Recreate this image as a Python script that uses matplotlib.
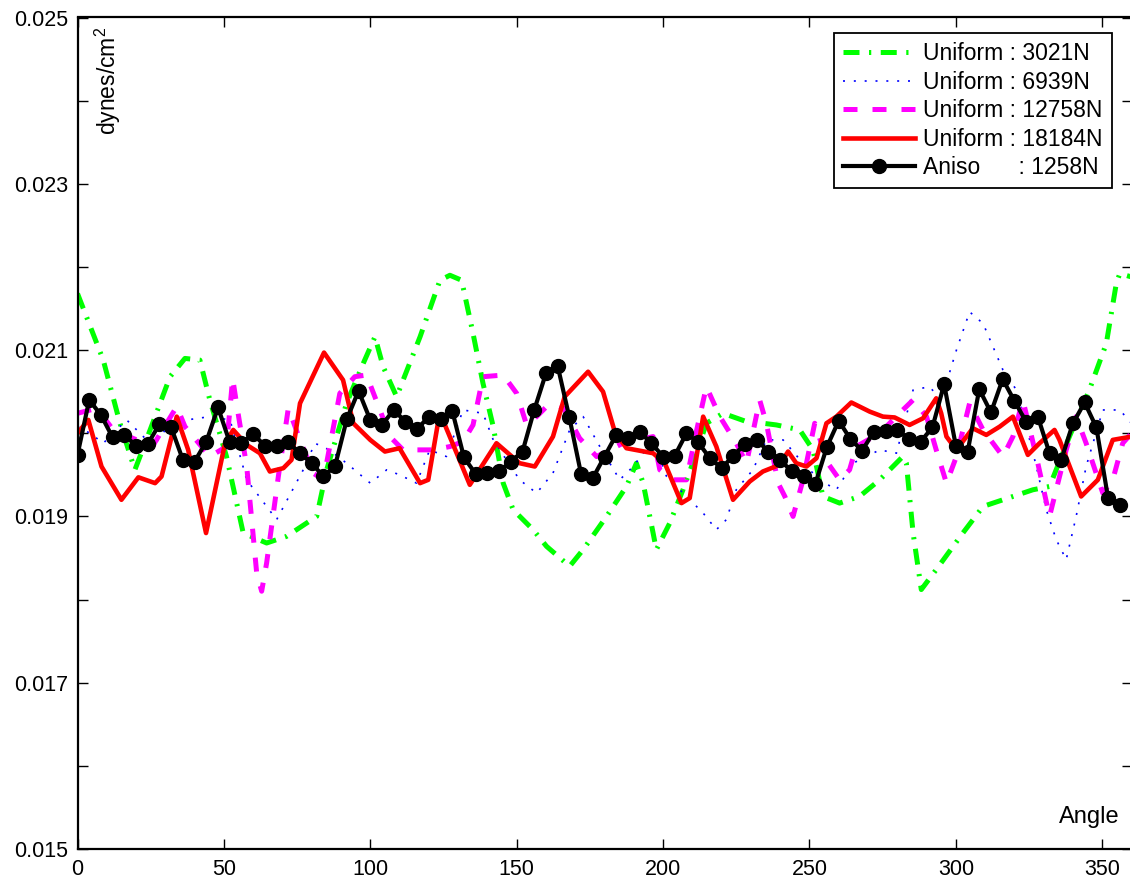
import matplotlib
matplotlib.use("Agg")
import matplotlib.pyplot as plt
import numpy as np

plt.rcParams['font.family'] = ['Liberation Sans', 'DejaVu Sans']
plt.rcParams['mathtext.fontset'] = 'custom'
plt.rcParams['mathtext.rm'] = 'Liberation Sans'

# ---------------- data ----------------
aniso_angle = list(range(0, 360, 4))
aniso_val = [0.01974, 0.0204, 0.02022, 0.01995, 0.01998, 0.01985, 0.01987, 0.02011, 0.02007, 0.01968,
             0.01966, 0.0199, 0.02031, 0.01989, 0.01988, 0.01999, 0.01985, 0.01985, 0.01989, 0.01976,
             0.01964, 0.01948, 0.01961, 0.02017, 0.02051, 0.02016, 0.0201, 0.02028, 0.02014, 0.02005,
             0.0202, 0.02017, 0.02027, 0.01971, 0.01951, 0.01952, 0.01954, 0.01966, 0.01978, 0.02028,
             0.02072, 0.02081, 0.02019, 0.01951, 0.01946, 0.01972, 0.01998, 0.01994, 0.02002, 0.01988,
             0.01972, 0.01973, 0.02, 0.01989, 0.0197, 0.01958, 0.01973, 0.01987, 0.01992, 0.01978,
             0.01968, 0.01954, 0.01948, 0.01939, 0.01984, 0.02015, 0.01993, 0.01979, 0.02002, 0.02003,
             0.02004, 0.01993, 0.0199, 0.02007, 0.02059, 0.01985, 0.01977, 0.02053, 0.02025, 0.02065,
             0.02039, 0.02014, 0.0202, 0.01976, 0.01968, 0.02012, 0.02037, 0.02007, 0.01922, 0.01914]

red_angle = [0, 3.7, 8.2, 15, 20.8, 26.5, 28.7, 33.9, 37.8, 43.9, 50.4, 53.2, 57.8, 62.3, 65.7, 70.3,
             73.1, 76, 84.2, 90.7, 94.2, 100, 105, 110, 117, 119.8, 123.2, 125.5, 134, 143.1, 151,
             156.2, 162.4, 166.4, 174.4, 179.5, 183.5, 187.5, 196.6, 200.6, 206.3, 209.1, 213.7,
             218.2, 223.9, 229.6, 234.1, 239.8, 242.7, 245.5, 249, 252.4, 255.8, 259.2, 264.3,
             270.6, 275.1, 279.1, 284.2, 288.8, 293.3, 295, 296.8, 300.2, 305.8, 310.4, 315,
             319.5, 324.6, 328.6, 333.7, 335.4, 342.8, 348.5, 353.6, 360]
red_val = [0.0200, 0.02016, 0.0196, 0.0192, 0.01947, 0.0194, 0.01948, 0.0202, 0.0198, 0.0188, 0.01988,
           0.02004, 0.01986, 0.01976, 0.01954, 0.01958, 0.01968, 0.02036, 0.02097, 0.02064, 0.02012,
           0.01992, 0.01978, 0.01982, 0.0194, 0.01944, 0.02014, 0.0201, 0.01938, 0.01988, 0.01964,
           0.0196, 0.01996, 0.02044, 0.02074, 0.0205, 0.02002, 0.01982, 0.01976, 0.01964, 0.01916,
           0.01922, 0.0202, 0.01984, 0.0192, 0.01942, 0.01954, 0.01962, 0.01978, 0.01964, 0.0196,
           0.0197, 0.02012, 0.0202, 0.02037, 0.02026, 0.0202, 0.02019, 0.0201, 0.02018, 0.02042,
           0.02024, 0.01996, 0.0198, 0.02006, 0.01998, 0.02008, 0.0202, 0.01974, 0.01988, 0.02004,
           0.01992, 0.01924, 0.01944, 0.01992, 0.01996]

mag_angle = [0, 6.6, 12.2, 20.2, 25.9, 33.9, 36.7, 45.2, 50.9, 53, 54.3, 57.8, 61.2, 62.9, 64.6, 68.6,
             72, 76, 80.5, 84, 89.6, 94.7, 98.7, 103.3, 106.7, 111.2, 121.5, 127.2, 131.7, 135.1,
             138.5, 145.4, 150, 153.4, 156.8, 160.2, 163, 166, 171.5, 177.3, 186.3, 196.6, 198.9,
             203.4, 208, 211.5, 214.8, 219.4, 225, 228.5, 233, 235.3, 239.3, 241.6, 244.4, 247.8,
             251.8, 256.3, 260.3, 263.7, 266, 274, 281.9, 285.4, 290, 293.3, 296.8, 300.2, 304.7,
             309.3, 316.1, 319.5, 322.9, 327.5, 332, 337.7, 341.1, 344.5, 350.2, 353.6, 357, 360]
mag_val = [0.02024, 0.0203, 0.02004, 0.01992, 0.01986, 0.02032, 0.02008, 0.01972, 0.01984, 0.02066,
           0.02036, 0.0196, 0.01832, 0.0181, 0.01844, 0.01948, 0.0203, 0.01992, 0.01952, 0.01944,
           0.02048, 0.02068, 0.0207, 0.02028, 0.01996, 0.0198, 0.0198, 0.01984, 0.0199, 0.0201,
           0.02068, 0.0207, 0.02048, 0.0201, 0.0202, 0.02032, 0.02034, 0.0203, 0.01994, 0.01972,
           0.01988, 0.01996, 0.01956, 0.01944, 0.01944, 0.02004, 0.02056, 0.0202, 0.01988, 0.01964,
           0.0204, 0.02012, 0.0194, 0.01924, 0.019, 0.01944, 0.02012, 0.01964, 0.01944, 0.01956,
           0.01984, 0.0200, 0.02028, 0.0204, 0.0202, 0.0198, 0.0194, 0.01972, 0.02036, 0.02004,
           0.01972, 0.01996, 0.0204, 0.01972, 0.019, 0.0198, 0.0202, 0.01988, 0.01928, 0.01944,
           0.01988, 0.0200]

blue_angle = [0, 4.3, 8.8, 16.8, 25.9, 31.6, 37.3, 45.2, 52.1, 57.8, 68, 77.1, 81.1, 86, 91.9, 100,
              105.6, 110, 115.8, 120.3, 126, 131.7, 138.5, 142, 151, 156.8, 162.4, 168.1, 172.7,
              178.4, 185.2, 189.8, 196.6, 201.2, 208, 213.7, 218.2, 221.6, 225, 230.7, 235.3, 241,
              247.8, 253.5, 259.2, 264.9, 274, 279.7, 285.4, 291, 295, 300.2, 304.7, 309.3, 316.1,
              320.7, 324.1, 327.5, 330.9, 334.3, 337.7, 341.1, 344.5, 350.2, 356, 360]
blue_val = [0.02008, 0.0200, 0.01988, 0.02016, 0.01984, 0.02012, 0.02016, 0.0202, 0.02016, 0.01944,
            0.01896, 0.01956, 0.01988, 0.0198, 0.01964, 0.0194, 0.01956, 0.0195, 0.0194, 0.0198,
            0.01972, 0.02028, 0.02024, 0.01992, 0.01944, 0.01928, 0.01952, 0.02004, 0.0202, 0.01984,
            0.01944, 0.0196, 0.01992, 0.01948, 0.01924, 0.01904, 0.01884, 0.01896, 0.01932, 0.01956,
            0.01992, 0.01992, 0.01964, 0.01944, 0.01932, 0.01964, 0.0198, 0.01976, 0.02052, 0.02056,
            0.0204, 0.021, 0.02146, 0.02132, 0.02076, 0.02052, 0.02008, 0.0196, 0.01908, 0.01872,
            0.01848, 0.019, 0.0196, 0.02028, 0.02028, 0.02012]

green_angle = [0, 8.8, 14.5, 19.6, 24.8, 31.6, 36.7, 41.8, 45.2, 50.9, 56.6, 64.6, 71.4, 81.7, 85.1,
               91.9, 97.6, 101.6, 104.4, 109, 117, 123.8, 127.2, 131.2, 135.1, 138.5, 142, 145.4,
               148.8, 155.6, 160.2, 168.1, 172.7, 180.7, 187.5, 190.9, 193.2, 196.6, 197.7, 202.3,
               206.8, 211.4, 214.8, 220.5, 228.5, 234.2, 238.7, 246.7, 251.2, 254.6, 260.3, 267.1,
               274, 281.9, 283.1, 285.4, 288.2, 293.3, 302.4, 309.3, 316.1, 326.3, 332, 338.8, 345.6,
               351.4, 354.8, 356, 360]
green_val = [0.02168, 0.02088, 0.02012, 0.01956, 0.02004, 0.02068, 0.0209, 0.02088, 0.0204, 0.01972,
             0.0188, 0.01868, 0.01876, 0.019, 0.01956, 0.02036, 0.02084, 0.02116, 0.0208, 0.02044,
             0.02116, 0.02184, 0.0219, 0.02184, 0.0212, 0.0206, 0.02008, 0.0194, 0.01908, 0.01884,
             0.01864, 0.0184, 0.0186, 0.019, 0.01936, 0.01964, 0.0194, 0.0188, 0.0186, 0.01892,
             0.01932, 0.01976, 0.02012, 0.02024, 0.02014, 0.02012, 0.0201, 0.02004, 0.0198, 0.01924,
             0.01916, 0.01924, 0.01944, 0.01972, 0.01964, 0.0188, 0.01812, 0.01836, 0.0188, 0.01912,
             0.0192, 0.01932, 0.01936, 0.01996, 0.02052, 0.02108, 0.0218, 0.02192, 0.02188]

labels = ['Uniform : 3021N', 'Uniform : 6939N', 'Uniform : 12758N', 'Uniform : 18184N',
          'Aniso      : 1258N']

x_ticks = [0, 50, 100, 150, 200, 250, 300, 350]
y_ticks = [0.015, 0.017, 0.019, 0.021, 0.023, 0.025]
y_minor = [0.016, 0.018, 0.020, 0.022, 0.024]

# ---------------- figure ----------------
W, H = 1130, 882
fig = plt.figure(figsize=(W / 100, H / 100), dpi=100)
ax_l, ax_r, ax_t, ax_b = 77.5, 1131.5, 17.5, 849
ax = fig.add_axes([ax_l / W, (H - ax_b) / H, (ax_r - ax_l) / W, (ax_b - ax_t) / H])

ax.plot(green_angle, green_val, color='#00ff00', lw=3.6, dashes=(3.2, 1.9, 0.45, 1.9),
        label=labels[0])
ax.plot(blue_angle, blue_val, color='#0000ff', lw=1.2, dashes=(1.2, 5.3), label=labels[1])
ax.plot(mag_angle, mag_val, color='#ff00ff', lw=3.6, dashes=(2.8, 3.0), label=labels[2])
ax.plot(red_angle, red_val, color='#ff0000', lw=3.3, label=labels[3])
ax.plot(aniso_angle, aniso_val, color='black', lw=3.0, marker='o', ms=10, label=labels[4])

ax.set_xlim(0, 360)
ax.set_ylim(0.015, 0.025)
ax.set_xticks(x_ticks)
ax.set_xticklabels([str(v) for v in x_ticks])
ax.set_yticks(y_ticks)
ax.set_yticklabels(['%.3f' % v for v in y_ticks])
ax.set_yticks(y_minor, minor=True)
ax.tick_params(axis='both', which='both', direction='in', length=7, width=1.0,
               top=True, right=True, labelsize=15.5, colors='black')
ax.tick_params(axis='x', pad=7)
ax.tick_params(axis='y', pad=7)
for s in ax.spines.values():
    s.set_linewidth(1.6)
    s.set_color('black')

ax.text(10.5, 0.02489, 'dynes/cm$^2$', rotation=90, ha='center', va='top', fontsize=16.5)
ax.text(356, 0.01538, 'Angle', ha='right', va='center', fontsize=17)

leg = ax.legend(loc='upper right', bbox_to_anchor=((1112 - ax_l) / (ax_r - ax_l),
                                                    (ax_b - 33) / (ax_b - ax_t)),
                borderaxespad=0, fontsize=16.5, handlelength=3.15, handletextpad=0.35,
                labelspacing=0.24, borderpad=0.4, fancybox=False, framealpha=1,
                edgecolor='black')
leg.get_frame().set_linewidth(1.3)

fig.savefig('out.png', dpi=100)
